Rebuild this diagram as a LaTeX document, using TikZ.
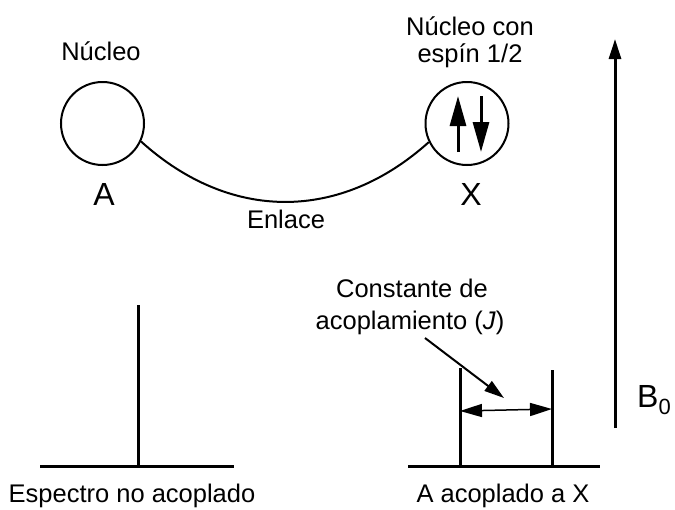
\documentclass[tikz,border=0pt]{standalone}
\usepackage{fontspec}
\setmainfont{Liberation Sans}
\usetikzlibrary{arrows.meta}
\begin{document}
\begin{tikzpicture}[x=1pt,y=-1pt,
  lbl/.style={anchor=base,font=\fontsize{25.5}{30}\selectfont,inner sep=0pt},
  big/.style={anchor=base,font=\fontsize{32}{36}\selectfont,inner sep=0pt},
  nuc/.style={circle,draw,line width=2pt,minimum size=83pt,inner sep=0pt},
  spec/.style={line width=3pt},
  spin/.style={line width=3pt,-{Triangle[length=30pt,width=16pt]}}]
\useasboundingbox (0,0) rectangle (675,509);
% nuclei
\node[nuc] (A) at (102.5,123.5) {};
\node[nuc] (X) at (467,123.5) {};
\draw[line width=2pt] (A.-25) .. controls (230,222) and (340,222) .. (X.206);
\node[lbl] (nA) at (101,60) {Núcleo};
\node[lbl] (nX1) at (470,35) {Núcleo con};
\node[lbl] (nX2) at (470,62) {espín 1/2};
\node[big] (lA) at (104,205) {A};
\node[big] (lX) at (471,205) {X};
\node[lbl] (enl) at (286,228) {Enlace};
% spins
\coordinate (u1) at (458,152); \coordinate (u2) at (458,96);
\coordinate (d1) at (481,96); \coordinate (d2) at (481,152);
\draw[spin] (u1) -- (u2);
\draw[spin] (d1) -- (d2);
% B0
\coordinate (b1) at (615,428); \coordinate (b2) at (615,39);
\draw[line width=3pt,-{Triangle[length=20pt,width=12pt]}] (b1) -- (b2);
\node[anchor=base west,inner sep=0pt,font=\fontsize{32}{36}\selectfont] (B) at (637,407) {B\raisebox{-7pt}{\fontsize{22}{26}\selectfont 0}};
% left spectrum
\coordinate (l1) at (40,466); \coordinate (l2) at (234,466);
\coordinate (l3) at (138,466); \coordinate (l4) at (138,305);
\draw[spec] (l1) -- (l2);
\draw[spec] (l3) -- (l4);
\node[lbl] (esp) at (132,502) {Espectro no acoplado};
% right spectrum
\coordinate (r1) at (408,466); \coordinate (r2) at (600,466);
\coordinate (r3) at (460,466); \coordinate (r4) at (460,368);
\coordinate (r5) at (552,466); \coordinate (r6) at (552,370);
\draw[spec] (r1) -- (r2);
\draw[spec] (r3) -- (r4);
\draw[spec] (r5) -- (r6);
\coordinate (j1) at (460,411); \coordinate (j2) at (552,409);
\draw[line width=1.5pt,{Triangle[length=22pt,width=13pt]}-{Triangle[length=22pt,width=13pt]}] (j1) -- (j2);
\node[lbl] (aac) at (503,502) {A acoplado a X};
\node[lbl] (c1) at (412,297) {Constante de};
\node[lbl] (c2) at (410,329) {acoplamiento (\textit{J})};
\coordinate (p1) at (425,338); \coordinate (p2) at (504,398);
\draw[line width=2pt,-{Triangle[length=20pt,width=12pt]}] (p1) -- (p2);
\end{tikzpicture}
\end{document}
